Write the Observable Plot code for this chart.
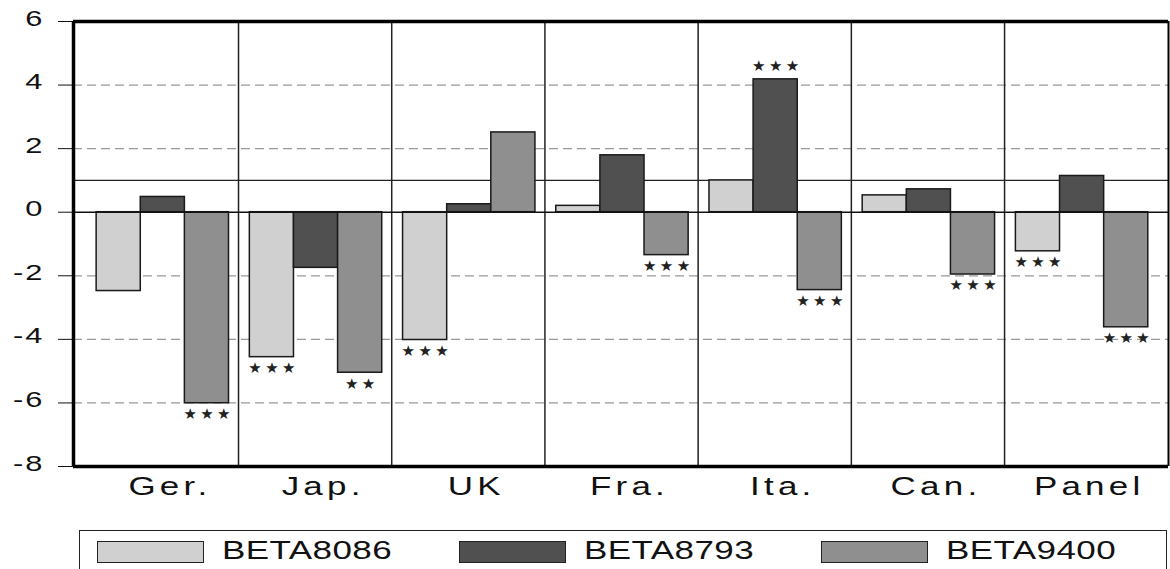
<!DOCTYPE html>
<html>
<head>
<meta charset="utf-8">
<script src="https://cdn.jsdelivr.net/npm/d3@7"></script>
<script src="https://cdn.jsdelivr.net/npm/@observablehq/plot@0.6"></script>
<style>
  html, body { margin: 0; padding: 0; background: #fff; overflow: hidden; }
  svg { display: block; }
  #legend {
    margin: 20px 0 0 79px; width: 1088px; height: 60px;
    border: 1.5px solid #222; box-sizing: border-box;
    display: flex; padding-top: 9.5px;
    font-family: 'Liberation Sans', Arial, sans-serif; color: #111;
  }
  .item { width: 362px; display: flex; padding-left: 17px; box-sizing: border-box; align-items: flex-start; }
  .sw { width: 107px; height: 22px; border: 1.5px solid #222; box-sizing: border-box; flex: none; }
  .lab { font-size: 25px; line-height: 25px; margin-left: 18px; margin-top: -3px;
         transform: scaleX(1.4); transform-origin: left center; letter-spacing: 0.3px; white-space: nowrap; }
</style>
</head>
<body>
<script>
// ---- data ----
const countries = ["Ger.", "Jap.", "UK", "Fra.", "Ita.", "Can.", "Panel"];
const seriesNames = ["BETA8086", "BETA8793", "BETA9400"];
const beta8086 = [-2.48, -4.56, -4.02, 0.20, 1.00, 0.53, -1.23];
const beta8793 = [0.48, -1.75, 0.25, 1.79, 4.18, 0.72, 1.14];
const beta9400 = [-6.01, -5.05, 2.51, -1.35, -2.45, -1.96, -3.62];
const sig8086 = ["", "***", "***", "", "", "", "***"];
const sig8793 = ["", "", "", "", "***", "", ""];
const sig9400 = ["***", "**", "", "***", "***", "***", "***"];
const yTicks = [6, 4, 2, 0, -2, -4, -6, -8];
const gridDashed = [4, 2, -2, -4, -6];
const refLine = [1];
const seriesColors = ["#d0d0d0", "#505050", "#8f8f8f"];

const values = [beta8086, beta8793, beta9400];
const sigs = [sig8086, sig8793, sig9400];
const rows = countries.flatMap((c, i) => seriesNames.map((s, j) => ({
  i, j, country: c, series: s, value: values[j][i], sig: sigs[j][i]
})));

// layout constants
const xDomain = [-0.577, 6.57];
const yDomain = [-8, 6];
const barW = 0.288, start = -0.426;
const x1 = d => d.i + start + d.j * barW;
const x2 = d => d.i + start + (d.j + 1) * barW;
const xm = d => d.i + start + (d.j + 0.5) * barW;
const starText = d => "★".repeat(d.sig.length);

const chart = Plot.plot({
  width: 1170, height: 510,
  marginLeft: 73, marginRight: 2, marginTop: 21, marginBottom: 44,
  style: { fontFamily: "'Liberation Sans', Arial, sans-serif", fontSize: "22px", color: "#111", background: "#fff", overflow: "visible" },
  x: { domain: xDomain, ticks: d3.range(countries.length), tickFormat: i => countries[i], tickSize: 0, tickPadding: 11, label: null },
  y: { domain: yDomain, ticks: yTicks, tickFormat: d => String(d), tickSize: 15, tickPadding: 14, label: null },
  color: { domain: seriesNames, range: seriesColors },
  marks: [
    Plot.ruleY(gridDashed, { stroke: "#999", strokeWidth: 1.2, strokeDasharray: "9,5" }),
    Plot.ruleY(refLine, { stroke: "#222", strokeWidth: 1.2 }),
    Plot.ruleX(d3.range(countries.length - 1).map(k => k + 0.5), { stroke: "#222", strokeWidth: 1.5 }),
    Plot.rect(rows, { x1, x2, y1: 0, y2: "value", fill: "series", stroke: "#1a1a1a", strokeWidth: 1.5 }),
    Plot.ruleY([0], { stroke: "#111", strokeWidth: 1.5 }),
    Plot.text(rows.filter(d => d.sig && d.value < 0), { x: xm, y: "value", text: starText, dy: 11, dx: 1.7, fontSize: 15, fontFamily: "DejaVu Sans", fill: "#222" }),
    Plot.text(rows.filter(d => d.sig && d.value >= 0), { x: xm, y: "value", text: starText, dy: -13, dx: 1.7, fontSize: 15, fontFamily: "DejaVu Sans", fill: "#222" }),
    Plot.ruleX([xDomain[1]], { stroke: "#000", strokeWidth: 2 }),
    Plot.ruleY(yDomain, { stroke: "#000", strokeWidth: 3.5 }),
    Plot.ruleX([xDomain[0]], { stroke: "#000", strokeWidth: 3.5 })
  ]
});
document.body.append(chart);

// stretch text horizontally to match the reference's wide lettering
const yLabels = yTicks.map(String);
for (const t of chart.querySelectorAll("text")) {
  const txt = t.textContent;
  if (txt.includes("★")) { t.style.letterSpacing = "3.4px"; continue; }
  let dx = 0, dy = 0;
  if (countries.includes(txt)) { t.style.fontSize = "25px"; t.style.letterSpacing = "3px"; dx = 8; }
  else if (yLabels.includes(txt)) { t.style.fontSize = "22px"; t.style.letterSpacing = "1.5px"; dy = -3; }
  const bb = t.getBBox();
  const anchor = getComputedStyle(t).textAnchor;
  const ax = anchor === "middle" ? bb.x + bb.width / 2 : anchor === "end" ? bb.x + bb.width : bb.x;
  const prev = t.getAttribute("transform") || "";
  t.setAttribute("transform", `${prev} translate(${ax + dx},${dy}) scale(1.4,1) translate(${-ax},0)`);
}

// legend
const legend = document.createElement("div");
legend.id = "legend";
seriesNames.forEach((name, j) => {
  const item = document.createElement("div");
  item.className = "item";
  const sw = document.createElement("div");
  sw.className = "sw";
  sw.style.background = seriesColors[j];
  const lab = document.createElement("span");
  lab.className = "lab";
  lab.textContent = name;
  item.append(sw, lab);
  legend.append(item);
});
document.body.append(legend);
</script>
</body>
</html>
